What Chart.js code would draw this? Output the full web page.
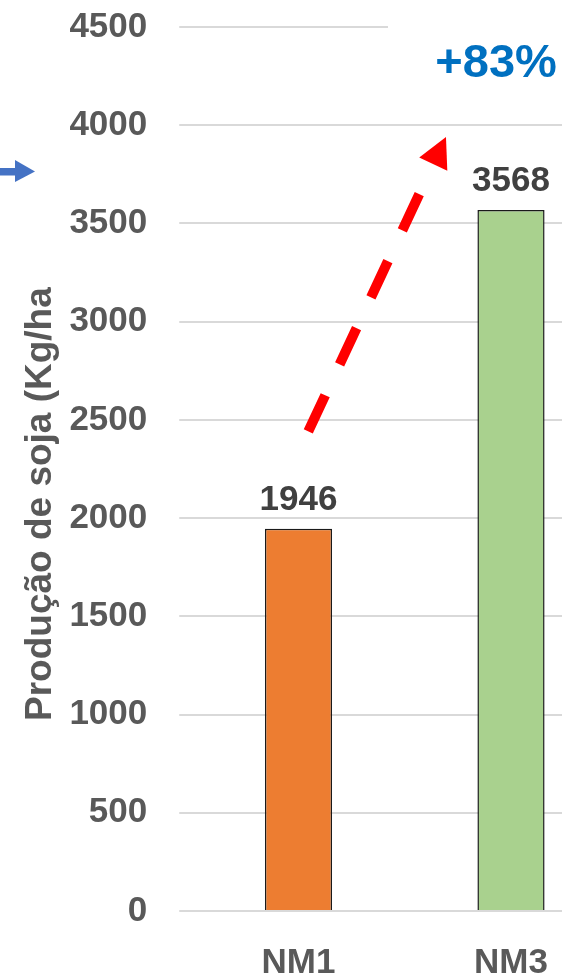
<!DOCTYPE html>
<html>
<head>
<meta charset="utf-8">
<script src="https://cdn.jsdelivr.net/npm/chart.js@4/dist/chart.umd.min.js"></script>
<style>
    html, body { margin: 0; padding: 0; background: #ffffff; overflow: hidden; }
    #chart_div { width: 620px; height: 973px; }
</style>
</head>
<body>
<div id="chart_div"><canvas id="soja_chart_cnv" width="620" height="973"></canvas></div>
<script>
// chart values
const categories = ["NM1", "NM3"];
const soja_yield = [1946, 3568];
const bar_colors = ["#ED7D31", "#A9D18E"];
const y_tick_values = [0, 500, 1000, 1500, 2000, 2500, 3000, 3500, 4000, 4500];
const y_axis_title = "Produção de soja (Kg/ha";
const gain_label = "+83%";

// red arrow from NM1 up towards NM3, given in (category index, kg/ha)
const gain_arrow_from = [0.046, 2441];
const gain_arrow_to = [0.694, 3940];
const gain_label_at = [0.93, 4246];

const label_font = "bold 35px 'Liberation Sans', Arial, sans-serif";

const soja_chart_cnv = document.getElementById("soja_chart_cnv").getContext("2d");

const extras_plugin = {
    id: "extras_plugin",
    beforeDatasetsDraw(chart) {
        const ctx = chart.ctx;
        // white box of the "+83%" text covers the top gridline
        ctx.save();
        ctx.fillStyle = "#ffffff";
        ctx.fillRect(388, 0, chart.width - 388, 100);
        ctx.restore();
    },
    afterDatasetsDraw(chart) {
        const ctx = chart.ctx;
        const x_scale = chart.scales.x;
        const y_scale = chart.scales.y;

        // value labels over the bars
        ctx.save();
        ctx.font = label_font;
        ctx.fillStyle = "#404040";
        ctx.textAlign = "center";
        ctx.textBaseline = "alphabetic";
        chart.getDatasetMeta(0).data.forEach(function (bar, i) {
            ctx.fillText(String(soja_yield[i]), bar.x, bar.y - 19);
        });
        ctx.restore();

        // y axis title, rotated
        ctx.save();
        ctx.translate(51, 721);
        ctx.rotate(-Math.PI / 2);
        ctx.font = "bold 37px 'Liberation Sans', Arial, sans-serif";
        ctx.fillStyle = "#595959";
        ctx.textAlign = "left";
        ctx.textBaseline = "alphabetic";
        ctx.fillText(y_axis_title, 0, 0);
        ctx.restore();

        // blue arrow at the left edge
        ctx.save();
        ctx.fillStyle = "#4472C4";
        ctx.fillRect(0, 168, 16, 7.5);
        ctx.beginPath();
        ctx.moveTo(15, 160);
        ctx.lineTo(35, 171.5);
        ctx.lineTo(15, 182);
        ctx.closePath();
        ctx.fill();
        ctx.restore();

        // red dashed arrow
        const x0 = x_scale.getPixelForValue(gain_arrow_from[0]);
        const y0 = y_scale.getPixelForValue(gain_arrow_from[1]);
        const x1 = x_scale.getPixelForValue(gain_arrow_to[0]);
        const y1 = y_scale.getPixelForValue(gain_arrow_to[1]);
        const len = Math.hypot(x1 - x0, y1 - y0);
        const ux = (x1 - x0) / len;
        const uy = (y1 - y0) / len;
        const head_len = 30;
        const head_half = 15.5;
        const bx = x1 - ux * head_len;
        const by = y1 - uy * head_len;

        ctx.save();
        ctx.strokeStyle = "#FF0000";
        ctx.fillStyle = "#FF0000";
        ctx.lineWidth = 10;
        ctx.lineCap = "butt";
        ctx.setLineDash([40, 34]);
        ctx.beginPath();
        ctx.moveTo(x0, y0);
        ctx.lineTo(bx, by);
        ctx.stroke();
        ctx.setLineDash([]);
        ctx.beginPath();
        ctx.moveTo(x1, y1);
        ctx.lineTo(bx - uy * head_half, by + ux * head_half);
        ctx.lineTo(bx + uy * head_half, by - ux * head_half);
        ctx.closePath();
        ctx.fill();
        ctx.restore();

        // gain text
        ctx.save();
        ctx.font = "bold 47px 'Liberation Sans', Arial, sans-serif";
        ctx.fillStyle = "#0070C0";
        ctx.textAlign = "center";
        ctx.textBaseline = "alphabetic";
        ctx.fillText(gain_label, x_scale.getPixelForValue(gain_label_at[0]), y_scale.getPixelForValue(gain_label_at[1]));
        ctx.restore();
    }
};

const soja_chart = new Chart(soja_chart_cnv, {
    "type": "bar",
    "data": {
        "labels": categories,
        "datasets": [{
            "label": "Produção de soja",
            "data": soja_yield,
            "backgroundColor": bar_colors,
            "borderColor": "#1a1a1a",
            "borderWidth": 1.5,
            "borderSkipped": "start",
            "categoryPercentage": 1,
            "barPercentage": 0.316
        }]
    },
    "options": {
        "responsive": false,
        "animation": false,
        "devicePixelRatio": 1,
        "layout": {
            "padding": {"top": 27, "left": 0, "right": 2.75, "bottom": 0}
        },
        "plugins": {
            "legend": {"display": false},
            "tooltip": {"enabled": false}
        },
        "scales": {
            "x": {
                "grid": {"display": false},
                "border": {"display": true, "color": "#d9d9d9", "width": 2},
                "ticks": {
                    "color": "#595959",
                    "font": {"family": "'Liberation Sans', Arial, sans-serif", "size": 35, "weight": "bold"},
                    "padding": 23
                },
                "afterFit": function (scale) {
                    scale.height = 62;
                    scale.paddingLeft = 0;
                    scale.paddingRight = 0;
                }
            },
            "y": {
                "min": 0,
                "max": 4500,
                "afterBuildTicks": function (scale) {
                    scale.ticks = y_tick_values.map(function (v) { return {"value": v}; });
                },
                "grid": {
                    "color": "#d9d9d9",
                    "lineWidth": 2,
                    "drawTicks": true,
                    "tickLength": 13,
                    "tickColor": "#d9d9d9"
                },
                "border": {"display": false},
                "ticks": {
                    "color": "#595959",
                    "font": {"family": "'Liberation Sans', Arial, sans-serif", "size": 35, "weight": "bold"},
                    "padding": 32,
                    "callback": function (value) {
                        return String(value);
                    }
                },
                "afterFit": function (scale) {
                    scale.width = 192.25;
                    scale.paddingTop = 0;
                    scale.paddingBottom = 0;
                }
            }
        }
    },
    "plugins": [extras_plugin]
});
</script>
</body>
</html>
